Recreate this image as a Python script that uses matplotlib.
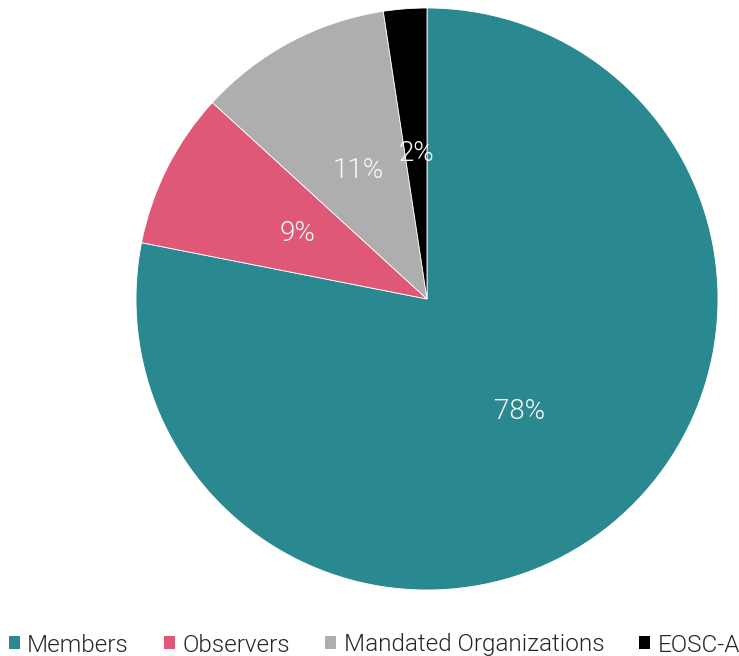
import matplotlib
matplotlib.use("Agg")
import matplotlib.pyplot as plt
from matplotlib.patches import Patch

categories = ["Members", "Observers", "Mandated Organizations", "EOSC-A"]
values = [78.1, 8.7, 10.8, 2.4]
colors = ["#2A8891", "#DF5878", "#AEAEAE", "#000000"]

plt.rcParams['font.family'] = ['Roboto', 'DejaVu Sans']

fig = plt.figure(figsize=(7.39, 6.56), dpi=100)
ax = fig.add_axes([136/739, 66/656, 582/739, 582/656])
wedges, texts, autotexts = ax.pie(
    values, colors=colors, startangle=90, counterclock=False,
    autopct='%1.0f%%', pctdistance=0.5,
    wedgeprops=dict(edgecolor='white', linewidth=0.6),
    textprops=dict(color='#F8F8F8', fontsize=20, fontweight=300))
ax.set_xlim(-1, 1)
ax.set_ylim(-1, 1)
ax.set_aspect('equal')

handles = [Patch(facecolor=c, edgecolor='none') for c in colors]
leg = fig.legend(handles, categories, loc='center', ncol=4,
                 bbox_to_anchor=(0.5 + 5/739, 11/656), frameon=False,
                 handlelength=0.45, handleheight=0.45, handletextpad=0.3,
                 columnspacing=1.45, borderpad=0, borderaxespad=0,
                 prop=dict(size=17.5, weight=300))
for t in leg.get_texts():
    t.set_color('#262626')

fig.savefig("out.png", dpi=100)
